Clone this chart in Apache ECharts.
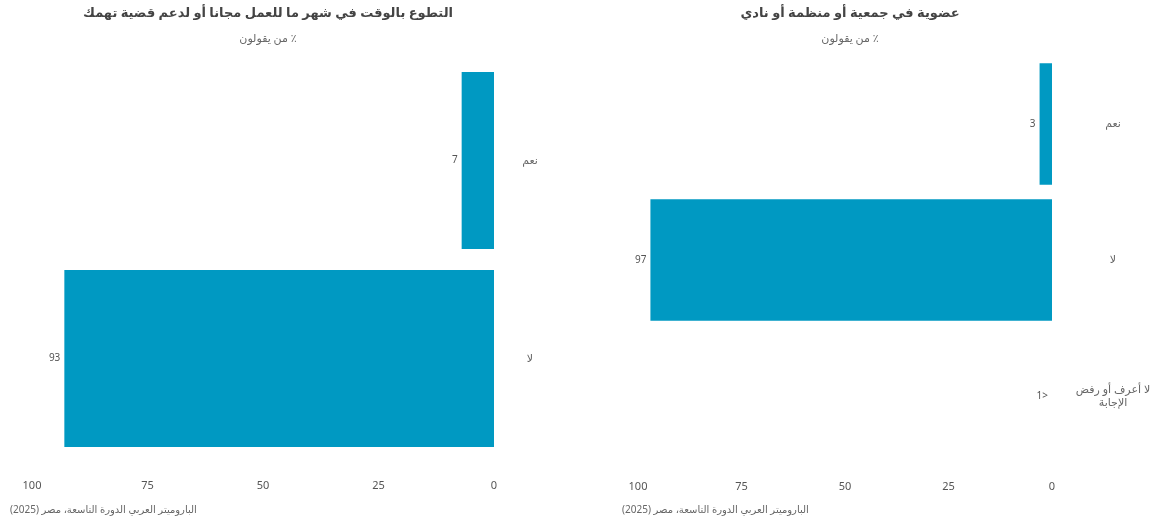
<!DOCTYPE html>
<html lang="ar" dir="rtl">
<head>
<meta charset="utf-8">
<script src="https://cdn.jsdelivr.net/npm/echarts@6/dist/echarts.min.js"></script>
<style>
  html, body { margin: 0; padding: 0; background: #fff; }
  #chart { width: 1156px; height: 520px; }
</style>
</head>
<body>
<div id="chart"></div>
<script>
// Volunteering panel
const volunteerTitle = 'التطوع بالوقت في شهر ما للعمل مجانا أو لدعم قضية تهمك';
const volunteerCategories = ['نعم', 'لا'];
const volunteerValues = [7, 93];

// Membership panel
const memberTitle = 'عضوية في جمعية أو منظمة أو نادي';
const memberCategories = ['نعم', 'لا', 'لا أعرف أو رفض\nالإجابة'];
const memberValues = [3, 97, 0];

const subtitleText = '٪ من يقولون';
const sourceText = 'الباروميتر العربي الدورة التاسعة، مصر (2025)';
const axisTicks = [0, 25, 50, 75, 100];

const FONT = "'Noto Sans', 'DejaVu Sans', sans-serif";
const BAR = '#0099c2';

function valueLabel(v) {
  return v < 1 ? '<1' : String(v);
}

const chart = echarts.init(document.getElementById('chart'));

function xAxis(gridIndex) {
  return {
    type: 'value', gridIndex, inverse: true,
    min: axisTicks[0], max: axisTicks[axisTicks.length - 1], interval: 25,
    axisLine: { show: false }, axisTick: { show: false }, splitLine: { show: false },
    axisLabel: { color: '#555', fontSize: 11, fontFamily: FONT, margin: gridIndex === 0 ? 23 : 17 }
  };
}

function yAxis(gridIndex, cats, margin) {
  return {
    type: 'category', gridIndex, data: cats, position: 'right', inverse: true,
    axisLine: { show: false }, axisTick: { show: false }, splitLine: { show: false },
    axisLabel: { color: '#666', fontSize: 11, fontFamily: FONT, align: 'center', margin, lineHeight: 13 }
  };
}

function barSeries(idx, values) {
  return {
    type: 'bar', xAxisIndex: idx, yAxisIndex: idx, data: values,
    barCategoryGap: '10.6%',
    itemStyle: { color: BAR },
    label: {
      show: true, position: 'left', distance: 4,
      color: '#555', fontSize: 10, fontFamily: FONT,
      formatter: p => valueLabel(p.value)
    },
    silent: true, animation: false
  };
}

chart.setOption({
  animation: false,
  textStyle: { fontFamily: FONT },
  title: [
    { text: volunteerTitle, left: 263, top: 2, textAlign: 'center',
      textStyle: { color: '#444', fontSize: 13, fontWeight: 'bold', fontFamily: FONT } },
    { text: subtitleText, left: 263, top: 28, textAlign: 'center',
      textStyle: { color: '#666', fontSize: 11, fontWeight: 'normal', fontFamily: FONT } },
    { text: memberTitle, left: 845, top: 2, textAlign: 'center',
      textStyle: { color: '#444', fontSize: 13, fontWeight: 'bold', fontFamily: FONT } },
    { text: subtitleText, left: 845, top: 28, textAlign: 'center',
      textStyle: { color: '#666', fontSize: 11, fontWeight: 'normal', fontFamily: FONT } },
    { text: sourceText, left: 5, top: 500,
      textStyle: { color: '#666', fontSize: 10, fontWeight: 'normal', fontFamily: FONT } },
    { text: sourceText, left: 617, top: 500,
      textStyle: { color: '#666', fontSize: 10, fontWeight: 'normal', fontFamily: FONT } }
  ],
  grid: [
    { left: 32, right: 662, top: 61.5, bottom: 62.5, containLabel: false },
    { left: 638, right: 104, top: 56, bottom: 56, containLabel: false }
  ],
  xAxis: [xAxis(0), xAxis(1)],
  yAxis: [yAxis(0, volunteerCategories, 36), yAxis(1, memberCategories, 61)],
  series: [barSeries(0, volunteerValues), barSeries(1, memberValues)]
});
</script>
</body>
</html>
